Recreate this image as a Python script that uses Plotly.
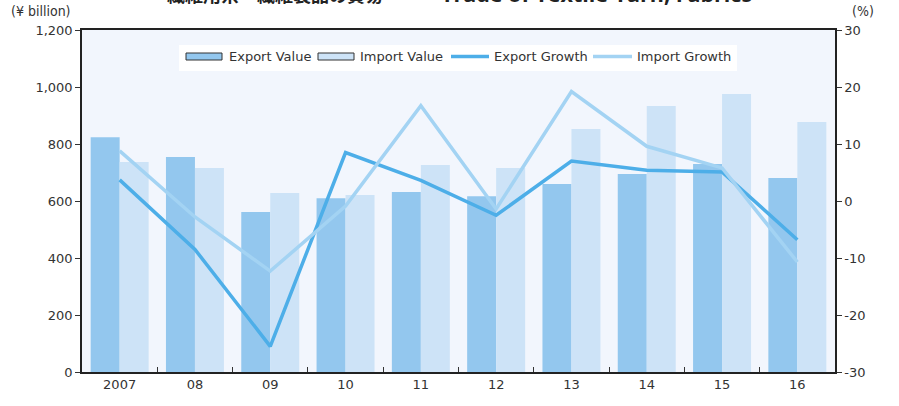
import plotly.graph_objects as go

years = ["2007", "08", "09", "10", "11", "12", "13", "14", "15", "16"]
export_value = [824, 754, 561, 610, 632, 617, 660, 695, 730, 681]
import_value = [737, 716, 628, 621, 726, 716, 853, 933, 975, 877]
export_growth = [3.7, -8.5, -25.5, 8.5, 3.6, -2.5, 7.0, 5.4, 5.1, -6.8]
import_growth = [8.8, -2.8, -12.3, -0.9, 16.7, -1.4, 19.2, 9.6, 5.8, -10.7]
growth_ticks = [-30, -20, -10, 0, 10, 20, 30]
growth_tick_labels = ["-30", "-20", "-10", "0", "10", "20", "30"]
series_names = ["Export Value", "Import Value", "Export Growth", "Import Growth"]

C_EXP_BAR = "#93C7EE"
C_IMP_BAR = "#CDE3F7"
C_EXP_LINE = "#4DAEE8"
C_IMP_LINE = "#A3D3F3"
FONT = "DejaVu Sans, Noto Sans CJK JP"
NARROW = "Liberation Sans Narrow, Arial Narrow, DejaVu Sans Condensed, sans-serif"

# plot area in page pixels: x 82-835, y 30-372 (body margin removed below)
PW, PH = 753.0, 342.0


def px(xpage):
    return (xpage - 82) / PW


def py(ypage):
    return (372 - ypage) / PH


fig = go.Figure()
fig.add_trace(go.Bar(x=years, y=export_value, name=series_names[0],
                     marker=dict(color=C_EXP_BAR, line=dict(width=0))))
fig.add_trace(go.Bar(x=years, y=import_value, name=series_names[1],
                     marker=dict(color=C_IMP_BAR, line=dict(width=0))))
fig.add_trace(go.Scatter(x=years, y=export_growth, name=series_names[2], mode="lines",
                         line=dict(color=C_EXP_LINE, width=3.5), yaxis="y2"))
fig.add_trace(go.Scatter(x=years, y=import_growth, name=series_names[3], mode="lines",
                         line=dict(color=C_IMP_LINE, width=3.5), yaxis="y2"))

# hand-drawn legend (wide rectangle swatches like the reference)
shapes = [dict(type="rect", xref="paper", yref="paper", x0=px(179), x1=px(737),
               y0=py(71), y1=py(45), fillcolor="white", line=dict(width=0), layer="above")]
swatches = [("rect", C_EXP_BAR, 186, 222, 227),
            ("rect", C_IMP_BAR, 318, 354, 358),
            ("line", C_EXP_LINE, 451, 489, 492),
            ("line", C_IMP_LINE, 593, 632, 635)]
leg_ann = []
for (kind, col, a, b, tx), name in zip(swatches, series_names):
    if kind == "rect":
        shapes.append(dict(type="rect", xref="paper", yref="paper", x0=px(a), x1=px(b),
                           y0=py(60), y1=py(53), fillcolor=col,
                           line=dict(color="#333", width=1), layer="above"))
    else:
        shapes.append(dict(type="line", xref="paper", yref="paper", x0=px(a), x1=px(b),
                           y0=py(56.5), y1=py(56.5), line=dict(color=col, width=3.5),
                           layer="above"))
    leg_ann.append(dict(text=name, xref="paper", yref="paper", x=px(tx), y=py(56.5),
                        xanchor="left", yanchor="middle", showarrow=False,
                        font=dict(size=13, color="#333")))

fig.update_layout(
    width=899, height=406,
    margin=dict(l=82, r=64, t=30, b=34, autoexpand=False),
    paper_bgcolor="white", plot_bgcolor="#F2F6FD",
    barmode="group", bargap=0.23, bargroupgap=0,
    showlegend=False,
    font=dict(family=FONT, size=13, color="#333"),
    xaxis=dict(type="category", tickson="boundaries", ticks="inside", ticklen=5,
               tickcolor="#333", showline=True, linecolor="#222", linewidth=1.5,
               mirror=True, showgrid=False, tickfont=dict(size=13), automargin=False),
    yaxis=dict(range=[0, 1200], dtick=200, tickformat=",", ticks="outside", ticklen=5,
               tickcolor="#333", showline=True, linecolor="#222", linewidth=1.5,
               showgrid=False, zeroline=False, tickfont=dict(size=13), automargin=False),
    yaxis2=dict(range=[-30, 30], tickvals=growth_ticks, ticktext=growth_tick_labels,
                overlaying="y", side="right", ticks="outside",
                ticklen=5, tickcolor="#333", showline=True, linecolor="#222", linewidth=1.5,
                showgrid=False, zeroline=False, tickfont=dict(size=13), automargin=False),
    shapes=shapes,
    annotations=[
        dict(text="<b>繊維用糸・繊維製品の貿易</b>", xref="paper", yref="paper",
             x=px(165), y=py(9), xanchor="left", yanchor="bottom", showarrow=False,
             font=dict(size=18, color="#222", family="Noto Sans CJK JP")),
        dict(text="<b>Trade of Textile Yarn, Fabrics</b>", xref="paper", yref="paper",
             x=px(754), y=py(10), xanchor="right", yanchor="bottom", showarrow=False,
             font=dict(size=21.5, color="#222", family="Open Sans")),
        dict(text="(¥ billion)", xref="paper", yref="paper", x=px(9), y=py(21),
             xanchor="left", yanchor="bottom", showarrow=False,
             font=dict(size=14, family=NARROW)),
        dict(text="(%)", xref="paper", yref="paper", x=px(850), y=py(21),
             xanchor="left", yanchor="bottom", showarrow=False,
             font=dict(size=14, family=NARROW)),
    ] + leg_ann,
)

fig.write_html("out.html", config={"displayModeBar": False},
               post_script="document.body.style.margin='0';")
